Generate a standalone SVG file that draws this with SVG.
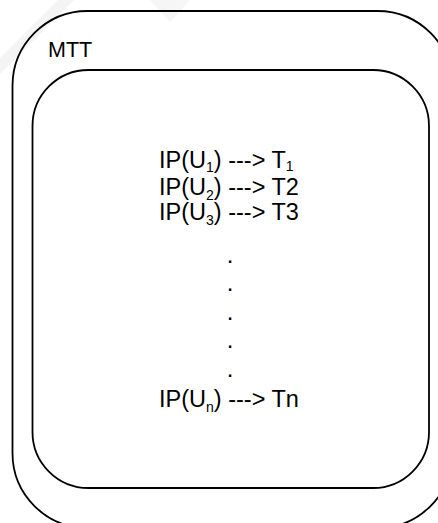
<svg xmlns="http://www.w3.org/2000/svg" width="438" height="523" viewBox="0 0 438 523">
  <style>
    .box { fill: none; stroke: #000; stroke-width: 1.8; }
    .lbl { font-family: "Liberation Sans", Arial, sans-serif; fill: #000; }
    .map { font-size: 23.5px; }
    .sub { font-size: 14px; }
    .dot { font-size: 24px; text-anchor: middle; }
  </style>
  <rect width="438" height="523" fill="#fff"/>
  <!-- faint background bands -->
  <polygon points="0,58 58,0 74,0 0,74" fill="#f4f4f4"/>
  <polygon points="150,0 190,0 170,22" fill="#f6f6f6"/>

  <g id="mtt">
    <rect class="box" x="12.5" y="11" width="440" height="517" rx="75" ry="75"/>
    <text class="lbl" x="48" y="57" font-size="21.5">MTT</text>
  </g>

  <g id="table">
    <rect class="box" x="32.5" y="70" width="396.5" height="418" rx="56" ry="56"/>
    <text class="lbl map" x="159" y="167.5">IP(U<tspan class="sub" dy="4.5">1</tspan><tspan dy="-4.5">) ---&gt; T</tspan><tspan class="sub" dy="3.5">1</tspan></text>
    <text class="lbl map" x="159" y="195">IP(U<tspan class="sub" dy="5">2</tspan><tspan dy="-5">) ---&gt; T2</tspan></text>
    <text class="lbl map" x="159" y="219.5">IP(U<tspan class="sub" dy="5">3</tspan><tspan dy="-5">) ---&gt; T3</tspan></text>
    <text class="lbl dot" x="230" y="263">.</text>
    <text class="lbl dot" x="230" y="291">.</text>
    <text class="lbl dot" x="230" y="320">.</text>
    <text class="lbl dot" x="230" y="348">.</text>
    <text class="lbl dot" x="230" y="377">.</text>
    <text class="lbl map" x="159" y="407">IP(U<tspan class="sub" dy="5">n</tspan><tspan dy="-5">) ---&gt; Tn</tspan></text>
  </g>
</svg>
